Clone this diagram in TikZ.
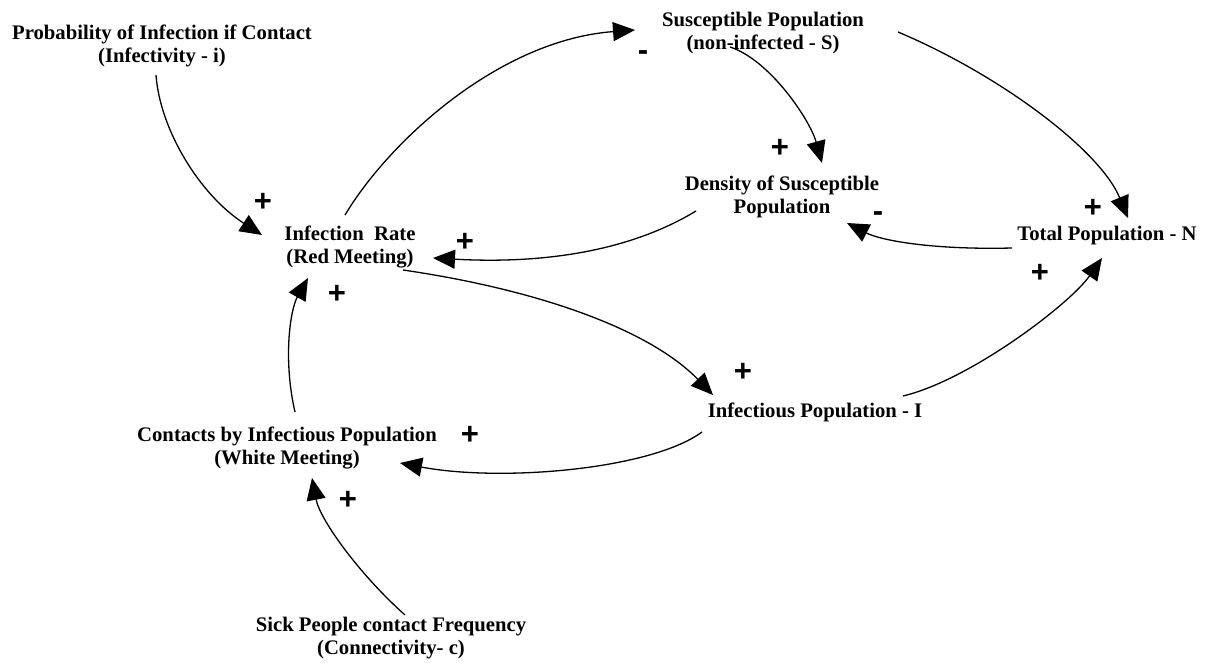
\documentclass[tikz,border=0pt]{standalone}
\usepackage{fontspec}
\setmainfont{Liberation Serif}
\newfontfamily\signfont{Liberation Sans}
\usetikzlibrary{arrows.meta}
\begin{document}
\begin{tikzpicture}[x=1pt,y=-1pt,
  lbl/.style={font=\bfseries\fontsize{20.7}{23.5}\selectfont, align=center, inner sep=0pt},
  sgn/.style={font=\signfont\bfseries\fontsize{31}{31}\selectfont, inner sep=0pt},
  link/.style={line width=1.3pt, -{Triangle[length=22pt,width=19pt]}}]
\fill[white] (0,0) rectangle (1205,663);
\useasboundingbox (0,0) rectangle (1205,663);

% variables
\node[lbl] (prob)  at (162,46)  {Probability of Infection if Contact\\(Infectivity - i)};
\node[lbl] (sus)   at (763,33)  {Susceptible Population\\(non-infected - S)};
\node[lbl] (dens)  at (782,197) {Density of Susceptible\\Population};
\node[lbl] (total) at (1107,236) {Total Population - N};
\node[lbl] (rate)  at (350,247) {Infection~ Rate\\(Red Meeting)};
\node[lbl] (inf)   at (815,412) {Infectious Population - I};
\node[lbl] (cont)  at (287,448) {Contacts by Infectious Population\\(White Meeting)};
\node[lbl] (sick)  at (391,638) {Sick People contact Frequency\\(Connectivity- c)};

% links
\draw[link] ([shift={(-6,29)}]prob.center) .. controls +(4,55) and +(-62,-40) .. ([shift={(-88,-12)}]rate.center);
\draw[link] ([shift={(-5,-32)}]rate.center) .. controls +(45,-75) and +(-135,10) .. ([shift={(-128,-3)}]sus.center);
\draw[link] ([shift={(-33,14)}]sus.center) .. controls +(40,13) and +(-12,-43) .. ([shift={(40,-34)}]dens.center);
\draw[link] ([shift={(135,-1)}]sus.center) .. controls +(102,43) and +(-28,-68) .. ([shift={(21,-18)}]total.center);
\draw[link] ([shift={(-86,14)}]dens.center) .. controls +(-56,34) and +(127,7) .. ([shift={(83,11)}]rate.center);
\draw[link] ([shift={(-95,12)}]total.center) .. controls +(-82,2) and +(33,17) .. ([shift={(65,26)}]dens.center);
\draw[link] ([shift={(53,23)}]rate.center) .. controls +(137,20) and +(-63,-65) .. ([shift={(-102,-17)}]inf.center);
\draw[link] ([shift={(88,-16)}]inf.center) .. controls +(67,-16) and +(-32,46) .. ([shift={(-5,22)}]total.center);
\draw[link] ([shift={(-113,20)}]inf.center) .. controls +(-52,38) and +(100,19) .. ([shift={(113,15)}]cont.center);
\draw[link] ([shift={(8,-36)}]cont.center) .. controls +(-12,-52) and +(-18,32) .. ([shift={(-42,31)}]rate.center);
\draw[link] ([shift={(14,-23)}]sick.center) .. controls +(-45,-40) and +(8,42) .. ([shift={(25,30)}]cont.center);

% polarities
\node[sgn] (sA) at (263,202) {+};
\node[sgn] (sB) at (643,56)  {-};
\node[sgn] (sC) at (780,148) {+};
\node[sgn] (sD) at (1093,208) {+};
\node[sgn] (sE) at (465,242) {+};
\node[sgn] (sF) at (878,217) {-};
\node[sgn] (sG) at (743,372) {+};
\node[sgn] (sH) at (1040,273) {+};
\node[sgn] (sI) at (470,435) {+};
\node[sgn] (sJ) at (337,294) {+};
\node[sgn] (sK) at (348,500) {+};
\end{tikzpicture}
\end{document}
